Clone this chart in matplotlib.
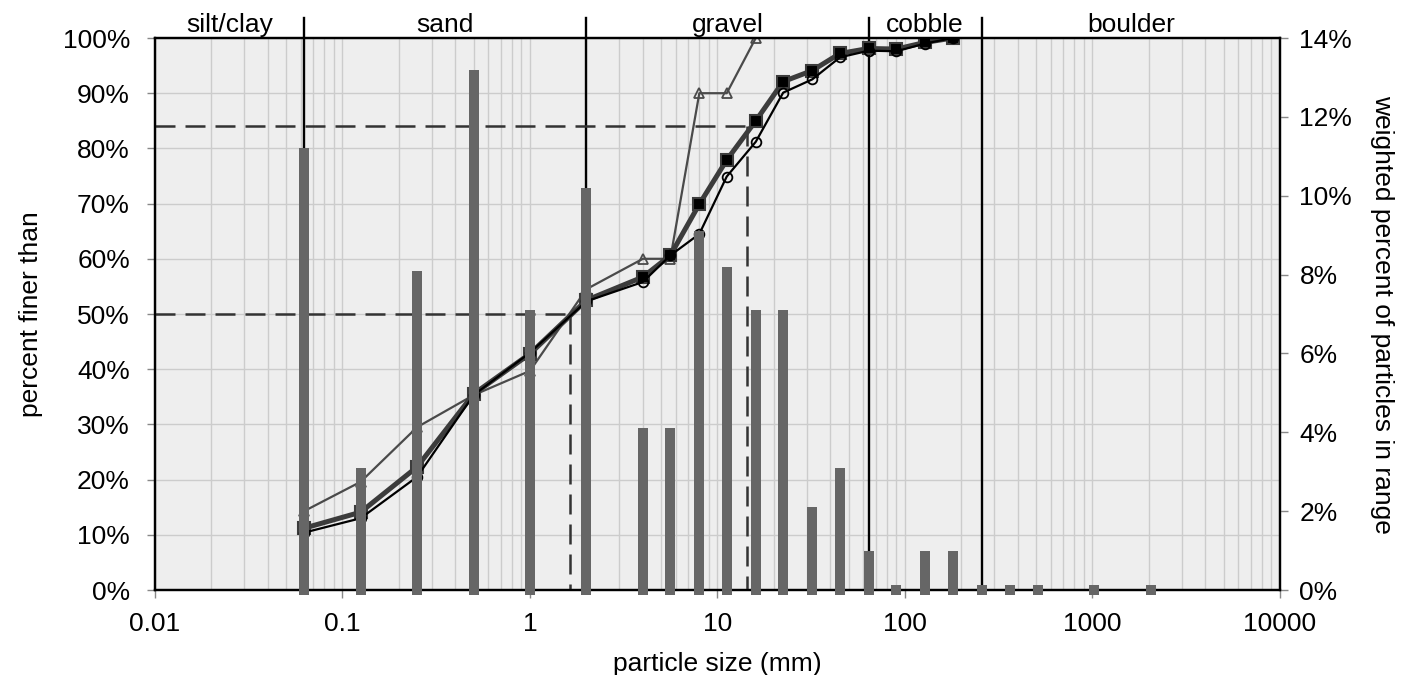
import matplotlib
matplotlib.use("Agg")
import matplotlib.pyplot as plt
from matplotlib.ticker import FuncFormatter, FixedLocator, LogLocator, NullFormatter
import matplotlib.transforms as mtransforms

plt.rcParams['font.family'] = ['Liberation Sans', 'DejaVu Sans']

# ---- data ----
sieve_mm = [0.0625, 0.125, 0.25, 0.5, 1, 2, 4, 5.6, 8, 11.2, 16, 22.4, 32, 45, 64, 90, 128, 180]
finer_a = [11.2, 14.1, 22.3, 35.5, 42.8, 52.5, 56.7, 60.6, 69.9, 77.9, 85.0, 92.1, 94.1, 97.2, 98.1, 98.0, 99.2, 100]
finer_b = [10.4, 13.0, 20.5, 35.3, 43.0, 52.3, 55.8, 60.6, 64.5, 74.9, 81.2, 90.1, 92.5, 96.5, 97.7, 97.6, 99.0, 100]
sieve_c = [0.0625, 0.125, 0.25, 0.5, 1, 2, 4, 5.6, 8, 11.2, 16]
finer_c = [14.3, 19.6, 29.5, 35.3, 39.7, 54.5, 60.0, 60.0, 90.0, 90.0, 100]

bar_mm = [0.0625, 0.125, 0.25, 0.5, 1, 2, 4, 5.6, 8, 11.2, 16, 22.4, 32, 45, 64, 90,
          128, 180, 256, 362, 512, 1024, 2048]
bar_pct = [11.2, 3.1, 8.1, 13.2, 7.1, 10.2, 4.1, 4.1, 9.1, 8.2, 7.1, 7.1, 2.1, 3.1, 1.0, 0,
           1.0, 1.0, 0, 0, 0, 0, 0]

class_bounds = [0.0625, 2, 64, 256]
class_names = ['silt/clay', 'sand', 'gravel', 'cobble', 'boulder']
class_label_x = [0.025, 0.354, 11.3, 128, 1600]

d50, d84 = 1.63, 14.4
x_ticks = [0.01, 0.1, 1, 10, 100, 1000, 10000]
x_ticklabels = ['0.01', '0.1', '1', '10', '100', '1000', '10000']

# ---- figure ----
fig = plt.figure(figsize=(14.02, 6.75), dpi=100)
ax = fig.add_axes([155/1402, 85/675, 1125/1402, 552/675])
ax.set_facecolor('#eeeeee')
ax.set_xscale('log')
ax.set_xlim(0.01, 10000)
ax.set_ylim(0, 100)

ax.xaxis.set_major_locator(FixedLocator(x_ticks))
ax.set_xticklabels(x_ticklabels)
ax.xaxis.set_minor_locator(LogLocator(base=10, subs=range(2, 10), numticks=100))
ax.xaxis.set_minor_formatter(NullFormatter())
ax.set_yticks(range(0, 101, 10))
ax.yaxis.set_major_formatter(FuncFormatter(lambda v, p: f"{v:.0f}%"))

ax.grid(True, which='major', color='#cccccc', lw=1.0, zorder=0)
ax.grid(True, which='minor', axis='x', color='#cccccc', lw=1.0, zorder=0)
ax.set_axisbelow(True)

for s in ax.spines.values():
    s.set_linewidth(1.6)
    s.set_color('black')

fs = 19
ax.tick_params(axis='y', which='major', direction='out', length=6, width=1,
               color='#888888', labelsize=fs, pad=12)
ax.tick_params(axis='x', which='major', direction='out', length=6, width=1,
               color='#888888', labelsize=fs, pad=10)
ax.tick_params(axis='x', which='minor', length=0)

# class boundary lines
for b in class_bounds:
    ax.axvline(b, ymin=0, ymax=1.037, color='black', lw=1.7, clip_on=False, zorder=2)

trans = mtransforms.blended_transform_factory(ax.transData, ax.transAxes)
for name, xx in zip(class_names, class_label_x):
    ax.text(xx, 1.002, name, transform=trans, ha='center', va='bottom', fontsize=fs)

# D50 / D84 dashed lines
dash = (8.0, 4.0)
ax.plot([0.01, d50], [50, 50], color='#333333', lw=1.8, dashes=dash, zorder=3)
ax.plot([d50, d50], [50, 0], color='#333333', lw=1.8, dashes=dash, zorder=3)
ax.plot([0.01, d84], [84, 84], color='#333333', lw=1.8, dashes=dash, zorder=3)
ax.plot([d84, d84], [84, 0], color='#333333', lw=1.8, dashes=dash, zorder=3)

# cumulative curves
ax.plot(sieve_c, finer_c, color='#4a4a4a', lw=1.6, marker='^', ms=7,
        mfc='none', mec='#4a4a4a', mew=1.3, zorder=4)
ax.plot(sieve_mm, finer_a, color='#3c3c3c', lw=3.6, marker='s', ms=8.5,
        mfc='black', mec='#3c3c3c', mew=1.5, zorder=5)
ax.plot(sieve_mm, finer_b, color='black', lw=1.6, marker='o', ms=7,
        mfc='none', mec='black', mew=1.3, zorder=6)

ax.set_xlabel('particle size (mm)', fontsize=fs, labelpad=11)
ax.set_ylabel('percent finer than', fontsize=fs, labelpad=14)

# secondary axis with bars
ax2 = ax.twinx()
ax2.set_ylim(0, 14)
ax2.set_yticks(range(0, 15, 2))
ax2.yaxis.set_major_formatter(FuncFormatter(lambda v, p: f"{v:.0f}%"))
ax2.tick_params(axis='y', direction='out', length=6, width=1, color='#888888',
                labelsize=fs, pad=8)
for s in ax2.spines.values():
    s.set_linewidth(1.6)
    s.set_color('black')
ax2.vlines(bar_mm, 0, bar_pct, colors='#666666', lw=7.2, capstyle='butt',
           clip_on=False, zorder=3)
ax2.scatter(bar_mm, [0] * len(bar_mm), marker='s', s=50, color='#666666',
            clip_on=False, zorder=3, linewidths=0)
ax2.set_ylabel('weighted percent of particles in range', fontsize=fs,
               rotation=270, labelpad=30)

fig.savefig('out.png', dpi=100)
